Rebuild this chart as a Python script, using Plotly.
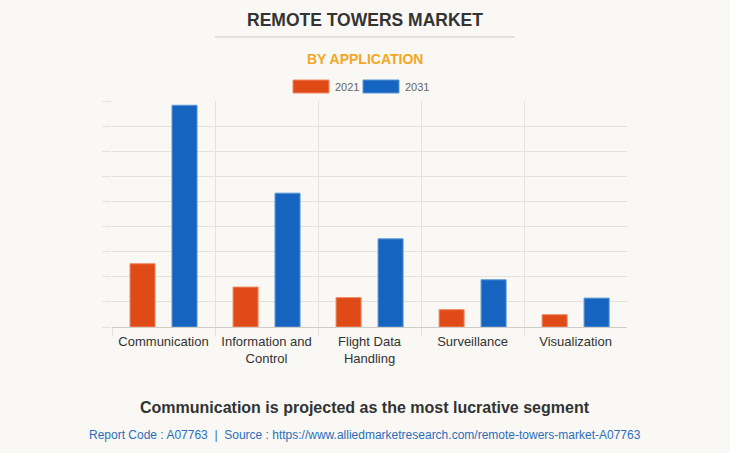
import plotly.graph_objects as go

categories = ["Communication", "Information and<br>Control", "Flight Data<br>Handling", "Surveillance", "Visualization"]
series_names = ["2021", "2031"]
values_2021 = [2.52, 1.59, 1.17, 0.69, 0.49]
values_2031 = [8.83, 5.33, 3.51, 1.88, 1.15]

colors = ["#E04A16", "#1565C0"]
edge_colors = ["#F08A66", "#5C95D6"]
bg = "#F9F8F4"
grid = "#E4E2DD"

fig = go.Figure()
for name, vals, col, ec, off in zip(series_names, [values_2021, values_2031], colors, edge_colors, [-0.325, 0.0825]):
    fig.add_trace(go.Bar(
        x=categories, y=vals, name=name,
        marker=dict(color=col, line=dict(color=ec, width=1)),
        width=0.243, offset=off, showlegend=False,
    ))

fig.update_layout(
    width=730, height=453,
    paper_bgcolor=bg, plot_bgcolor=bg,
    margin=dict(l=112, r=103, t=101, b=126),
    barmode="overlay",
    font=dict(family="Liberation Sans, Arial, sans-serif", color="#333"),
    xaxis=dict(
        type="category", tickson="boundaries", range=[-0.5, 4.499],
        showgrid=True, gridcolor=grid, gridwidth=1,
        ticks="outside", ticklen=8, tickcolor=grid,
        showline=True, linecolor="#CFCDC8", linewidth=1,
        tickfont=dict(size=13, color="#333"),
        ticklabelstandoff=2,
        fixedrange=True,
    ),
    yaxis=dict(
        range=[0, 9], dtick=1, showgrid=True, gridcolor=grid, gridwidth=1,
        showticklabels=False, ticks="outside", ticklen=9, tickcolor=grid,
        zeroline=False, showline=False, fixedrange=True,
    ),
)

center_shift = (365 - 112) - 0.5 * 515

# titles
fig.add_annotation(text="<b>REMOTE TOWERS MARKET</b>", xref="paper", yref="paper",
                   x=0.5, y=1, xanchor="center", yanchor="middle",
                   xshift=center_shift, yshift=(101 - 20), showarrow=False,
                   font=dict(size=17.5, color="#333", family="Liberation Sans, Arial, sans-serif"))
fig.add_annotation(text="<b>BY APPLICATION</b>", xref="paper", yref="paper",
                   x=0.5, y=1, xanchor="center", yanchor="middle",
                   xshift=center_shift, yshift=(101 - 59), showarrow=False,
                   font=dict(size=14, color="#F5A623", family="Liberation Sans, Arial, sans-serif"))
# separator line under title (paper coords)
fig.add_shape(type="line", xref="paper", yref="paper",
              x0=(215 - 112) / 515, x1=(515 - 112) / 515,
              y0=1 + (101 - 37) / 226, y1=1 + (101 - 37) / 226,
              line=dict(color="#CCCCCC", width=1))

# custom legend
leg_y = 1 + (101 - 86.5) / 226
for i, (name, col, ec) in enumerate(zip(series_names, colors, edge_colors)):
    x0 = 293 + i * 70
    fig.add_shape(type="rect", xref="paper", yref="paper",
                  x0=(x0 - 112) / 515, x1=(x0 + 36 - 112) / 515,
                  y0=leg_y - 6.5 / 226, y1=leg_y + 6.5 / 226,
                  fillcolor=col, line=dict(color=ec, width=1))
    fig.add_annotation(text=name, xref="paper", yref="paper",
                       x=(x0 + 40 - 112) / 515, y=leg_y, xanchor="left", yanchor="middle",
                       showarrow=False, font=dict(size=11, color="#666"))

# bottom texts
fig.add_annotation(text="<b>Communication is projected as the most lucrative segment</b>",
                   xref="paper", yref="paper", x=0.5, y=0, xanchor="center", yanchor="middle",
                   xshift=center_shift, yshift=-(407 - 327), showarrow=False,
                   font=dict(size=16, color="#333"))
fig.add_annotation(text="Report Code : A07763  |  Source : https://www.alliedmarketresearch.com/remote-towers-market-A07763",
                   xref="paper", yref="paper", x=0.5, y=0, xanchor="center", yanchor="middle",
                   xshift=center_shift, yshift=-(435 - 327), showarrow=False,
                   font=dict(size=12, color="#2A6EBB"))

fig.write_html("out.html", config={"displayModeBar": False},
               post_script="document.body.style.margin='0';document.body.style.background='#F9F8F4';")
